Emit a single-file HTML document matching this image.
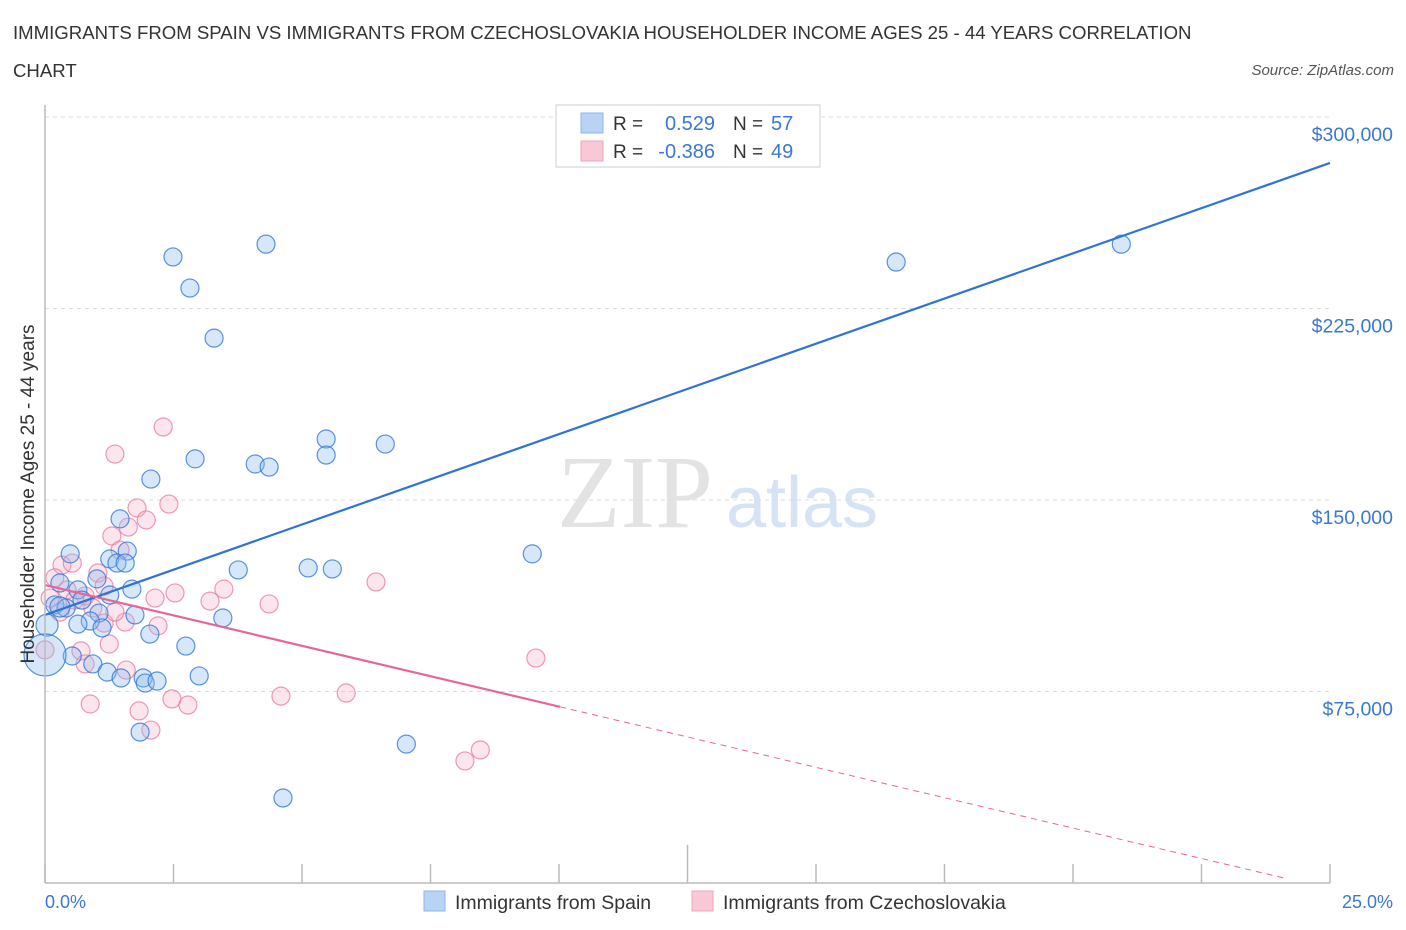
<!DOCTYPE html>
<html><head><meta charset="utf-8"><style>
body{margin:0;background:#fff;font-family:"Liberation Sans",sans-serif;}
#wrap{position:relative;width:1406px;height:930px;overflow:hidden;}
.t{position:absolute;white-space:nowrap;}
</style></head><body>
<div id="wrap">
<div class="t" style="left:13px;top:14px;font-size:18.6px;color:#333;line-height:38px;">IMMIGRANTS FROM SPAIN VS IMMIGRANTS FROM CZECHOSLOVAKIA HOUSEHOLDER INCOME AGES 25 - 44 YEARS CORRELATION<br>CHART</div>
<div class="t" style="right:12px;top:62px;font-size:15px;color:#555;font-style:italic;">Source: ZipAtlas.com</div>
<svg id="svg" width="1406" height="930" style="position:absolute;left:0;top:0">
<text x="635" y="527" font-family="Liberation Serif" font-size="104" fill="#e3e3e3" text-anchor="middle">ZIP</text>
<text x="802" y="527" font-family="Liberation Sans" font-size="72" fill="#d6e3f5" text-anchor="middle">atlas</text>
<g id="grid"></g><g id="pts"></g><g id="lines"></g><g id="axes"></g>
<text x="34" y="494" transform="rotate(-90 34 494)" font-size="19" fill="#333" text-anchor="middle">Householder Income Ages 25 - 44 years</text>
<text x="45" y="908" font-size="18" fill="#3a78d4">0.0%</text>
<text x="1393" y="908" font-size="18" fill="#3a78d4" text-anchor="end">25.0%</text>
<g>
<rect x="556" y="105" width="264" height="62" fill="#fff" stroke="#ccc"/>
<rect x="581" y="113" width="22" height="20" fill="#b8d3f5" stroke="#8fb6ea"/>
<rect x="581" y="141" width="22" height="20" fill="#f9c8d6" stroke="#f0a4bb"/>
<text x="613" y="130" font-size="19" fill="#333">R =</text><text x="715" y="130" font-size="20" fill="#3a78d4" text-anchor="end">0.529</text>
<text x="733" y="130" font-size="19" fill="#333">N =</text><text x="771" y="130" font-size="20" fill="#3a78d4">57</text>
<text x="613" y="158" font-size="19" fill="#333">R =</text><text x="715" y="158" font-size="20" fill="#3a78d4" text-anchor="end">-0.386</text>
<text x="733" y="158" font-size="19" fill="#333">N =</text><text x="771" y="158" font-size="20" fill="#3a78d4">49</text>
</g>
<g>
<rect x="424" y="891" width="21" height="20" fill="#b8d3f5" stroke="#8fb6ea"/>
<text x="455" y="909" font-size="19.5" fill="#333">Immigrants from Spain</text>
<rect x="692" y="891" width="21" height="20" fill="#f9c8d6" stroke="#f0a4bb"/>
<text x="723" y="909" font-size="19.5" fill="#333">Immigrants from Czechoslovakia</text>
</g>
</svg>
</div>
<script>
const yTicks=[75000,150000,225000,300000];
const yTickLabels=["$75,000","$150,000","$225,000","$300,000"];
const xTicks=[0,2.5,5,7.5,10,12.5,15,17.5,20,22.5,25];
const spainX=[2.49,4.30,2.82,3.29,2.06,2.92,4.09,4.36,5.47,5.47,6.62,9.48,16.56,20.94,0.49,1.46,1.26,1.60,1.40,1.56,1.01,0.29,0.64,0.19,0.41,0.72,1.26,1.69,1.05,0.88,0.64,1.11,1.75,3.46,2.04,2.74,3.76,5.12,5.59,0.53,0.93,1.21,1.48,1.91,1.95,2.18,3.00,1.85,7.03,4.63,0.04,0.29,0.0];
const spainY=[245.2,250.2,233.0,213.4,158.2,166.1,164.1,162.9,173.9,167.6,171.9,128.9,243.2,250.2,128.9,142.6,126.9,130.0,125.3,125.3,119.1,117.5,114.8,108.9,107.7,110.8,112.8,115.1,105.7,102.6,101.4,99.9,105.0,103.8,97.5,92.8,122.6,123.4,123.0,88.9,85.8,82.6,80.3,80.3,78.3,79.1,81.1,59.1,54.4,33.3,101.0,108.1,89.3];
const spainR=[9,9,9,9,9,9,9,9,9,9,9,9,9,9,9,9,9,9,9,9,9,9,9,9,9,9,9,9,9,9,9,9,9,9,9,9,9,9,9,9,9,9,9,9,9,9,9,9,9,9,11,10,21];
const czX=[2.30,1.36,2.41,1.79,1.97,1.62,1.30,1.46,0.33,0.53,0.19,1.03,0.43,1.15,0.78,2.53,2.14,3.21,3.48,4.36,6.44,0.93,1.15,1.56,2.20,1.25,0.70,0.78,1.58,9.55,0.88,1.83,2.47,2.78,2.06,4.59,5.86,8.17,8.47,0.29,0.58,0.10,1.36,0.0];
const czY=[178.6,168.0,148.4,146.9,142.2,139.4,135.9,130.4,124.5,125.3,119.5,121.4,114.8,116.3,112.4,113.6,111.6,110.4,115.1,109.3,117.9,107.7,101.8,102.2,100.7,93.6,90.9,85.8,83.4,88.1,70.1,67.4,72.1,69.7,59.9,73.2,74.4,47.8,52.1,106.1,110.8,111.6,106.1,91.3];
const czR=[9,9,9,9,9,9,9,9,9,9,9,9,9,9,9,9,9,9,9,9,9,9,9,9,9,9,9,9,9,9,9,9,9,9,9,9,9,9,9,9,9,9,9,9,19];
const spainFit=[105.0,7.08];
const czFit=[116.7,-4.76];
const czSolidEnd=10.02, czDashEnd=24.12;

const X=v=>45+v*1285/25;
const Y=k=>500-(k-150)*191.5/75;
const NS="http://www.w3.org/2000/svg";
function mk(tag,attrs,parent){const e=document.createElementNS(NS,tag);for(const k in attrs)e.setAttribute(k,attrs[k]);parent.appendChild(e);return e;}
const grid=document.getElementById('grid'),pts=document.getElementById('pts'),lines=document.getElementById('lines'),axes=document.getElementById('axes');
yTicks.forEach((t,i)=>{
 const g=mk('line',{x1:45,x2:1330,y1:Y(t/1000),y2:Y(t/1000),stroke:'#ddd','stroke-dasharray':'4,4'},grid);
 
 
 const tx=mk('text',{x:1393,y:Y(t/1000)+24,'font-size':19.5,fill:'#3a78d4','text-anchor':'end'},axes);
 tx.textContent=yTickLabels[i];
 
 
});
const ax=mk('line',{x1:45,x2:1330,y1:883,y2:883,stroke:'#bbb','stroke-width':1.5},axes);


const ay=mk('line',{x1:45,x2:45,y1:105,y2:883,stroke:'#bbb','stroke-width':1.5},axes);


xTicks.forEach((t,i)=>{
 const l=mk('line',{x1:X(t),x2:X(t),y1:(i==5?845:864),y2:883,stroke:'#bbb','stroke-width':1.5},axes);
 
 
});
function dots(xs,ys,rs,fill,stroke,name){
 xs.forEach((x,i)=>{
  const c=mk('circle',{cx:X(x),cy:Y(ys[i]),r:rs[i]||9,fill:fill,stroke:stroke,'stroke-width':1.2},pts);
  
  
 });
}
dots(czX,czY,czR,'rgba(246,170,195,0.3)','rgba(232,120,155,0.75)','point-czechoslovakia');
dots(spainX,spainY,spainR,'rgba(140,185,240,0.35)','rgba(50,120,215,0.8)','point-spain');
const bl=mk('line',{x1:X(0),y1:Y(spainFit[0]),x2:X(25),y2:Y(spainFit[0]+spainFit[1]*25),stroke:'#2f73d9','stroke-width':2.2},lines);


const pl=mk('line',{x1:X(0),y1:Y(czFit[0]),x2:X(czSolidEnd),y2:Y(czFit[0]+czFit[1]*czSolidEnd),stroke:'#e5679a','stroke-width':2.2},lines);


const pd=mk('line',{x1:X(czSolidEnd),y1:Y(czFit[0]+czFit[1]*czSolidEnd),x2:X(czDashEnd),y2:Y(czFit[0]+czFit[1]*czDashEnd),stroke:'#e5679a','stroke-width':1,'stroke-dasharray':'6,5'},lines);


</script>
</body></html>
